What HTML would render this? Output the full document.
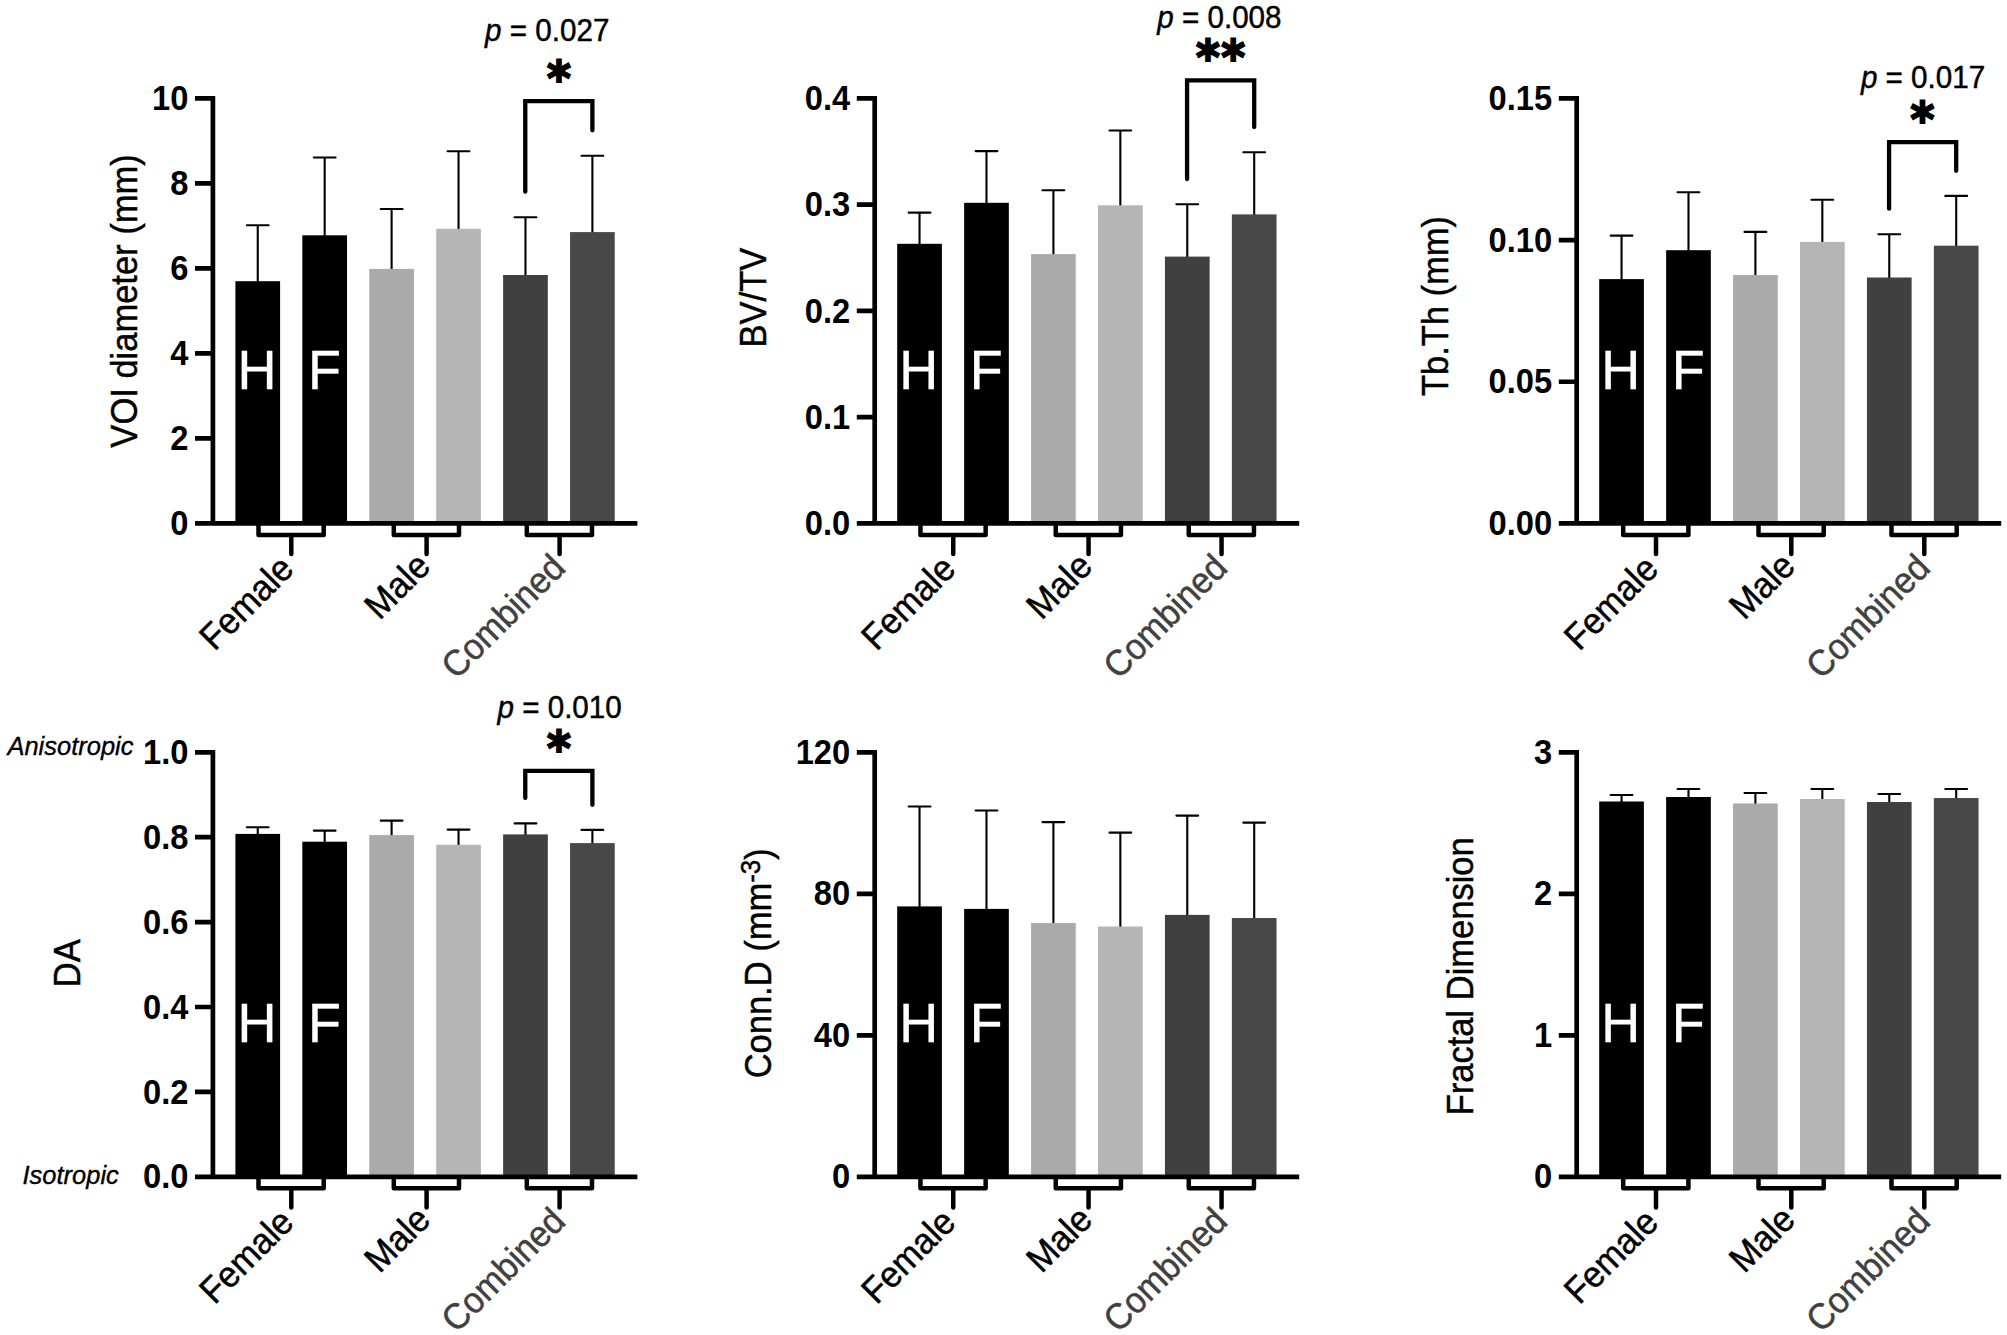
<!DOCTYPE html>
<html lang="en"><head><meta charset="utf-8"><title>Trabecular bone parameters</title>
<style>
html,body{margin:0;padding:0;background:#fff;}
body{width:2007px;height:1335px;overflow:hidden;}
svg{display:block;font-family:"Liberation Sans",sans-serif;}
.tk{font-weight:bold;font-size:32.7px;text-anchor:end;fill:#000;}
.xl{font-size:34.4px;text-anchor:end;fill:#000;stroke:#000;stroke-width:.45px;}
.xg{fill:#404040;stroke:#404040;}
.yl{font-size:34.5px;text-anchor:middle;fill:#000;stroke:#000;stroke-width:.45px;}
.hf{font-size:54px;text-anchor:middle;fill:#fff;stroke:#fff;stroke-width:.35px;}
.pv{font-size:29.6px;fill:#000;stroke:#000;stroke-width:.45px;}
.it{font-style:italic;font-size:25.5px;fill:#000;stroke:#000;stroke-width:.35px;}
.st{font-family:"DejaVu Sans",sans-serif;font-weight:bold;font-size:47.5px;text-anchor:middle;fill:#000;stroke:#000;stroke-width:2px;stroke-linejoin:miter;}
.ax{stroke:#000;stroke-width:4.7;fill:none;}
.br{stroke:#000;stroke-width:4.5;fill:none;stroke-linecap:round;stroke-linejoin:round;}
.sg{stroke:#000;stroke-width:4.3;fill:none;stroke-linecap:round;stroke-linejoin:miter;}
.eb{stroke:#000;stroke-width:2.1;fill:none;stroke-linecap:round;}
</style></head><body>
<svg width="2007" height="1335" viewBox="0 0 2007 1335">
<rect width="2007" height="1335" fill="#fff"/>
<g>
<path class="eb" d="M257.75 282.2V225.3M246.85 225.3H268.65"/>
<path class="eb" d="M324.68 236.3V157.5M313.78 157.5H335.58"/>
<path class="eb" d="M391.61 269.9V209M380.71 209H402.51"/>
<path class="eb" d="M458.54 229.8V151.2M447.64 151.2H469.44"/>
<path class="eb" d="M525.47 276V217.2M514.57 217.2H536.37"/>
<path class="eb" d="M592.4 233.1V155.7M581.5 155.7H603.3"/>
<rect x="235.4" y="281.2" width="44.7" height="242.2" fill="#000000"/>
<rect x="302.33" y="235.3" width="44.7" height="288.1" fill="#000000"/>
<rect x="369.26" y="268.9" width="44.7" height="254.5" fill="#aaaaaa"/>
<rect x="436.19" y="228.8" width="44.7" height="294.6" fill="#b5b5b5"/>
<rect x="503.12" y="275" width="44.7" height="248.4" fill="#404040"/>
<rect x="570.05" y="232.1" width="44.7" height="291.3" fill="#484848"/>
<text class="hf" transform="translate(256.95 388.6) scale(1 1.04)">H</text>
<text class="hf" transform="translate(324.48 388.6) scale(1 1.04)">F</text>
<path class="ax" d="M212.9 96.05V523.4M195 523.4H637.4"/>
<path class="ax" d="M195 438.4H212.9M195 353.4H212.9M195 268.4H212.9M195 183.4H212.9M195 98.4H212.9"/>
<text class="tk" transform="translate(188.4 535) scale(1 1.05)">0</text>
<text class="tk" transform="translate(188.4 450) scale(1 1.05)">2</text>
<text class="tk" transform="translate(188.4 365) scale(1 1.05)">4</text>
<text class="tk" transform="translate(188.4 280) scale(1 1.05)">6</text>
<text class="tk" transform="translate(188.4 195) scale(1 1.05)">8</text>
<text class="tk" transform="translate(188.4 110) scale(1 1.05)">10</text>
<path class="br" d="M258.5 524.4V534.9H323.7V524.4M291.3 534.9V554.1"/>
<text class="xl" transform="translate(295.6 571) rotate(-45) scale(1 1.06)">Female</text>
<path class="br" d="M393.8 524.4V534.9H459V524.4M426.6 534.9V554.1"/>
<text class="xl" transform="translate(432.3 568.2) rotate(-45) scale(1 1.06)">Male</text>
<path class="br" d="M526.8 524.4V534.9H592V524.4M559.6 534.9V554.1"/>
<text class="xl xg" transform="translate(567.3 569.7) rotate(-45) scale(1 1.06)">Combined</text>
<text class="yl" transform="translate(137.2 301) rotate(-90) scale(1 1.06)">VOI diameter (mm)</text>
<path class="sg" d="M525.27 191.7V101.2H592.4V130.3"/>
<text class="st" transform="translate(558.8 95.23) scale(0.96 1)">*</text>
<text class="pv" transform="translate(485.1 40.6) scale(1 1.04)"><tspan font-style="italic">p</tspan> = 0.027</text>
</g>
<g>
<path class="eb" d="M919.55 244.8V212.6M908.65 212.6H930.45"/>
<path class="eb" d="M986.48 203.8V151.1M975.58 151.1H997.38"/>
<path class="eb" d="M1053.41 255.1V190.3M1042.51 190.3H1064.31"/>
<path class="eb" d="M1120.34 206.3V130.5M1109.44 130.5H1131.24"/>
<path class="eb" d="M1187.27 257.6V204.2M1176.37 204.2H1198.17"/>
<path class="eb" d="M1254.2 215.4V152.3M1243.3 152.3H1265.1"/>
<rect x="897.2" y="243.8" width="44.7" height="279.6" fill="#000000"/>
<rect x="964.13" y="202.8" width="44.7" height="320.6" fill="#000000"/>
<rect x="1031.06" y="254.1" width="44.7" height="269.3" fill="#aaaaaa"/>
<rect x="1097.99" y="205.3" width="44.7" height="318.1" fill="#b5b5b5"/>
<rect x="1164.92" y="256.6" width="44.7" height="266.8" fill="#404040"/>
<rect x="1231.85" y="214.4" width="44.7" height="309" fill="#484848"/>
<text class="hf" transform="translate(918.75 388.6) scale(1 1.04)">H</text>
<text class="hf" transform="translate(986.28 388.6) scale(1 1.04)">F</text>
<path class="ax" d="M874.7 96.05V523.4M856.8 523.4H1299.2"/>
<path class="ax" d="M856.8 417.15H874.7M856.8 310.9H874.7M856.8 204.65H874.7M856.8 98.4H874.7"/>
<text class="tk" transform="translate(850.2 535) scale(1 1.05)">0.0</text>
<text class="tk" transform="translate(850.2 428.75) scale(1 1.05)">0.1</text>
<text class="tk" transform="translate(850.2 322.5) scale(1 1.05)">0.2</text>
<text class="tk" transform="translate(850.2 216.25) scale(1 1.05)">0.3</text>
<text class="tk" transform="translate(850.2 110) scale(1 1.05)">0.4</text>
<path class="br" d="M920.45 524.4V534.9H985.65V524.4M953.25 534.9V554.1"/>
<text class="xl" transform="translate(957.55 571) rotate(-45) scale(1 1.06)">Female</text>
<path class="br" d="M1055.75 524.4V534.9H1120.95V524.4M1088.55 534.9V554.1"/>
<text class="xl" transform="translate(1094.25 568.2) rotate(-45) scale(1 1.06)">Male</text>
<path class="br" d="M1188.75 524.4V534.9H1253.95V524.4M1221.55 534.9V554.1"/>
<text class="xl xg" transform="translate(1229.25 569.7) rotate(-45) scale(1 1.06)">Combined</text>
<text class="yl" transform="translate(766 297.6) rotate(-90) scale(1 1.06)">BV/TV</text>
<path class="sg" d="M1187.07 179V80.3H1254.2V127.1"/>
<text class="st" letter-spacing="1.45" transform="translate(1221.2 74.33) scale(0.96 1)">**</text>
<text class="pv" transform="translate(1157.3 28.3) scale(1 1.04)"><tspan font-style="italic">p</tspan> = 0.008</text>
</g>
<g>
<path class="eb" d="M1621.55 280.1V235.6M1610.65 235.6H1632.45"/>
<path class="eb" d="M1688.48 251.2V192.3M1677.58 192.3H1699.38"/>
<path class="eb" d="M1755.41 276V231.9M1744.51 231.9H1766.31"/>
<path class="eb" d="M1822.34 242.9V199.7M1811.44 199.7H1833.24"/>
<path class="eb" d="M1889.27 278.5V234.2M1878.37 234.2H1900.17"/>
<path class="eb" d="M1956.2 246.7V195.9M1945.3 195.9H1967.1"/>
<rect x="1599.2" y="279.1" width="44.7" height="244.3" fill="#000000"/>
<rect x="1666.13" y="250.2" width="44.7" height="273.2" fill="#000000"/>
<rect x="1733.06" y="275" width="44.7" height="248.4" fill="#aaaaaa"/>
<rect x="1799.99" y="241.9" width="44.7" height="281.5" fill="#b5b5b5"/>
<rect x="1866.92" y="277.5" width="44.7" height="245.9" fill="#404040"/>
<rect x="1933.85" y="245.7" width="44.7" height="277.7" fill="#484848"/>
<text class="hf" transform="translate(1620.75 388.6) scale(1 1.04)">H</text>
<text class="hf" transform="translate(1688.28 388.6) scale(1 1.04)">F</text>
<path class="ax" d="M1576.7 96.05V523.4M1558.8 523.4H2001.2"/>
<path class="ax" d="M1558.8 381.73H1576.7M1558.8 240.07H1576.7M1558.8 98.4H1576.7"/>
<text class="tk" transform="translate(1552.2 535) scale(1 1.05)">0.00</text>
<text class="tk" transform="translate(1552.2 393.33) scale(1 1.05)">0.05</text>
<text class="tk" transform="translate(1552.2 251.67) scale(1 1.05)">0.10</text>
<text class="tk" transform="translate(1552.2 110) scale(1 1.05)">0.15</text>
<path class="br" d="M1623.2 524.4V534.9H1688.4V524.4M1656 534.9V554.1"/>
<text class="xl" transform="translate(1660.3 571) rotate(-45) scale(1 1.06)">Female</text>
<path class="br" d="M1758.5 524.4V534.9H1823.7V524.4M1791.3 534.9V554.1"/>
<text class="xl" transform="translate(1797 568.2) rotate(-45) scale(1 1.06)">Male</text>
<path class="br" d="M1891.5 524.4V534.9H1956.7V524.4M1924.3 534.9V554.1"/>
<text class="xl xg" transform="translate(1932 569.7) rotate(-45) scale(1 1.06)">Combined</text>
<text class="yl" transform="translate(1447.6 306) rotate(-90) scale(1 1.06)">Tb.Th (mm)</text>
<path class="sg" d="M1889.07 208.7V142.1H1956.2V170.8"/>
<text class="st" transform="translate(1922.5 136.13) scale(0.96 1)">*</text>
<text class="pv" transform="translate(1860.9 88.3) scale(1 1.04)"><tspan font-style="italic">p</tspan> = 0.017</text>
</g>
<g>
<path class="eb" d="M257.75 834.9V827.2M246.85 827.2H268.65"/>
<path class="eb" d="M324.68 842.7V830.6M313.78 830.6H335.58"/>
<path class="eb" d="M391.61 836.1V820.6M380.71 820.6H402.51"/>
<path class="eb" d="M458.54 845.7V829.6M447.64 829.6H469.44"/>
<path class="eb" d="M525.47 835.4V823.4M514.57 823.4H536.37"/>
<path class="eb" d="M592.4 844.1V829.9M581.5 829.9H603.3"/>
<rect x="235.4" y="833.9" width="44.7" height="342.9" fill="#000000"/>
<rect x="302.33" y="841.7" width="44.7" height="335.1" fill="#000000"/>
<rect x="369.26" y="835.1" width="44.7" height="341.7" fill="#aaaaaa"/>
<rect x="436.19" y="844.7" width="44.7" height="332.1" fill="#b5b5b5"/>
<rect x="503.12" y="834.4" width="44.7" height="342.4" fill="#404040"/>
<rect x="570.05" y="843.1" width="44.7" height="333.7" fill="#484848"/>
<text class="hf" transform="translate(256.95 1042) scale(1 1.04)">H</text>
<text class="hf" transform="translate(324.48 1042) scale(1 1.04)">F</text>
<path class="ax" d="M212.9 749.95V1176.8M195 1176.8H637.4"/>
<path class="ax" d="M195 1091.9H212.9M195 1007H212.9M195 922.1H212.9M195 837.2H212.9M195 752.3H212.9"/>
<text class="tk" transform="translate(188.4 1188.4) scale(1 1.05)">0.0</text>
<text class="tk" transform="translate(188.4 1103.5) scale(1 1.05)">0.2</text>
<text class="tk" transform="translate(188.4 1018.6) scale(1 1.05)">0.4</text>
<text class="tk" transform="translate(188.4 933.7) scale(1 1.05)">0.6</text>
<text class="tk" transform="translate(188.4 848.8) scale(1 1.05)">0.8</text>
<text class="tk" transform="translate(188.4 763.9) scale(1 1.05)">1.0</text>
<path class="br" d="M258.5 1177.8V1188.3H323.7V1177.8M291.3 1188.3V1207.5"/>
<text class="xl" transform="translate(295.6 1224.4) rotate(-45) scale(1 1.06)">Female</text>
<path class="br" d="M393.8 1177.8V1188.3H459V1177.8M426.6 1188.3V1207.5"/>
<text class="xl" transform="translate(432.3 1221.6) rotate(-45) scale(1 1.06)">Male</text>
<path class="br" d="M526.8 1177.8V1188.3H592V1177.8M559.6 1188.3V1207.5"/>
<text class="xl xg" transform="translate(567.3 1223.1) rotate(-45) scale(1 1.06)">Combined</text>
<text class="yl" transform="translate(80 963.3) rotate(-90) scale(1 1.06)">DA</text>
<path class="sg" d="M525.27 797.9V770.9H592.4V804.8"/>
<text class="st" transform="translate(558.8 764.73) scale(0.96 1)">*</text>
<text class="pv" transform="translate(497.5 718.2) scale(1 1.04)"><tspan font-style="italic">p</tspan> = 0.010</text>
</g>
<g>
<path class="eb" d="M919.55 907.4V806.5M908.65 806.5H930.45"/>
<path class="eb" d="M986.48 909.9V810.5M975.58 810.5H997.38"/>
<path class="eb" d="M1053.41 924V822.1M1042.51 822.1H1064.31"/>
<path class="eb" d="M1120.34 927.5V832.6M1109.44 832.6H1131.24"/>
<path class="eb" d="M1187.27 915.9V815.6M1176.37 815.6H1198.17"/>
<path class="eb" d="M1254.2 919V822.6M1243.3 822.6H1265.1"/>
<rect x="897.2" y="906.4" width="44.7" height="270.4" fill="#000000"/>
<rect x="964.13" y="908.9" width="44.7" height="267.9" fill="#000000"/>
<rect x="1031.06" y="923" width="44.7" height="253.8" fill="#aaaaaa"/>
<rect x="1097.99" y="926.5" width="44.7" height="250.3" fill="#b5b5b5"/>
<rect x="1164.92" y="914.9" width="44.7" height="261.9" fill="#404040"/>
<rect x="1231.85" y="918" width="44.7" height="258.8" fill="#484848"/>
<text class="hf" transform="translate(918.75 1042) scale(1 1.04)">H</text>
<text class="hf" transform="translate(986.28 1042) scale(1 1.04)">F</text>
<path class="ax" d="M874.7 749.95V1176.8M856.8 1176.8H1299.2"/>
<path class="ax" d="M856.8 1035.3H874.7M856.8 893.8H874.7M856.8 752.3H874.7"/>
<text class="tk" transform="translate(850.2 1188.4) scale(1 1.05)">0</text>
<text class="tk" transform="translate(850.2 1046.9) scale(1 1.05)">40</text>
<text class="tk" transform="translate(850.2 905.4) scale(1 1.05)">80</text>
<text class="tk" transform="translate(850.2 763.9) scale(1 1.05)">120</text>
<path class="br" d="M920.45 1177.8V1188.3H985.65V1177.8M953.25 1188.3V1207.5"/>
<text class="xl" transform="translate(957.55 1224.4) rotate(-45) scale(1 1.06)">Female</text>
<path class="br" d="M1055.75 1177.8V1188.3H1120.95V1177.8M1088.55 1188.3V1207.5"/>
<text class="xl" transform="translate(1094.25 1221.6) rotate(-45) scale(1 1.06)">Male</text>
<path class="br" d="M1188.75 1177.8V1188.3H1253.95V1177.8M1221.55 1188.3V1207.5"/>
<text class="xl xg" transform="translate(1229.25 1223.1) rotate(-45) scale(1 1.06)">Combined</text>
<text class="yl" transform="translate(771.2 963.3) rotate(-90) scale(1 1.06)">Conn.D (mm<tspan dy="-10.8" font-size="26">-3</tspan><tspan dy="10.8">)</tspan></text>
</g>
<g>
<path class="eb" d="M1621.55 802.5V795M1610.65 795H1632.45"/>
<path class="eb" d="M1688.48 798V789M1677.58 789H1699.38"/>
<path class="eb" d="M1755.41 804.5V793M1744.51 793H1766.31"/>
<path class="eb" d="M1822.34 800V789M1811.44 789H1833.24"/>
<path class="eb" d="M1889.27 803V794M1878.37 794H1900.17"/>
<path class="eb" d="M1956.2 799V789M1945.3 789H1967.1"/>
<rect x="1599.2" y="801.5" width="44.7" height="375.3" fill="#000000"/>
<rect x="1666.13" y="797" width="44.7" height="379.8" fill="#000000"/>
<rect x="1733.06" y="803.5" width="44.7" height="373.3" fill="#aaaaaa"/>
<rect x="1799.99" y="799" width="44.7" height="377.8" fill="#b5b5b5"/>
<rect x="1866.92" y="802" width="44.7" height="374.8" fill="#404040"/>
<rect x="1933.85" y="798" width="44.7" height="378.8" fill="#484848"/>
<text class="hf" transform="translate(1620.75 1042) scale(1 1.04)">H</text>
<text class="hf" transform="translate(1688.28 1042) scale(1 1.04)">F</text>
<path class="ax" d="M1576.7 749.95V1176.8M1558.8 1176.8H2001.2"/>
<path class="ax" d="M1558.8 1035.3H1576.7M1558.8 893.8H1576.7M1558.8 752.3H1576.7"/>
<text class="tk" transform="translate(1552.2 1188.4) scale(1 1.05)">0</text>
<text class="tk" transform="translate(1552.2 1046.9) scale(1 1.05)">1</text>
<text class="tk" transform="translate(1552.2 905.4) scale(1 1.05)">2</text>
<text class="tk" transform="translate(1552.2 763.9) scale(1 1.05)">3</text>
<path class="br" d="M1623.2 1177.8V1188.3H1688.4V1177.8M1656 1188.3V1207.5"/>
<text class="xl" transform="translate(1660.3 1224.4) rotate(-45) scale(1 1.06)">Female</text>
<path class="br" d="M1758.5 1177.8V1188.3H1823.7V1177.8M1791.3 1188.3V1207.5"/>
<text class="xl" transform="translate(1797 1221.6) rotate(-45) scale(1 1.06)">Male</text>
<path class="br" d="M1891.5 1177.8V1188.3H1956.7V1177.8M1924.3 1188.3V1207.5"/>
<text class="xl xg" transform="translate(1932 1223.1) rotate(-45) scale(1 1.06)">Combined</text>
<text class="yl" transform="translate(1473.2 976.3) rotate(-90) scale(1 1.06)">Fractal Dimension</text>
</g>
<text class="it" transform="translate(7.4 755.2) scale(1 1.04)">Anisotropic</text>
<text class="it" transform="translate(22.5 1183.5) scale(1 1.04)">Isotropic</text>
</svg>
</body></html>
